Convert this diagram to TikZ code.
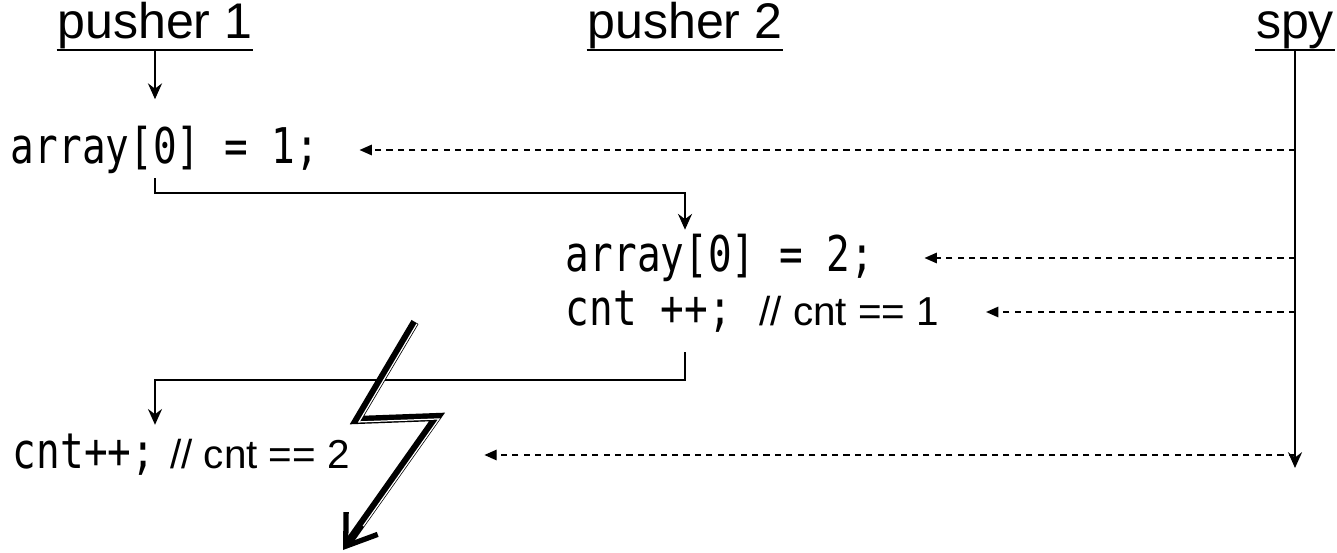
\documentclass[tikz,border=0pt]{standalone}
\usepackage{fontspec}
\setmainfont{Liberation Sans}
\newfontfamily\codefont[FakeStretch=0.8]{DejaVu Sans Mono}
\usetikzlibrary{arrows.meta}
\newcommand{\cmt}[1]{{\fontsize{23}{25}\rmfamily\selectfont #1}}

\begin{document}
\begin{tikzpicture}[>={Stealth[length=9pt,width=8pt,inset=3pt]},line width=1.1pt,
 head/.style={font=\fontsize{28.5}{30}\selectfont,inner sep=0pt,anchor=south},
 code/.style={font=\fontsize{28}{30}\codefont,inner sep=2pt,anchor=west},
 peek/.style={-{Triangle[length=7pt,width=6pt]},dash pattern=on 3.5pt off 3pt,line width=0.8pt},
 bolt/.style={line width=4.6pt,-{Straight Barb[length=16pt,width=22pt,line width=3pt]}}]
\useasboundingbox (0,0) rectangle (26.74,-11.06);
% threads
\node[head] (p1) at (3.1,-1.0) {pusher 1};
\node[head] (p2) at (13.7,-1.0) {pusher 2};
\node[head] (spy) at (25.9,-1.0) {spy};
\foreach \n in {p1,p2,spy}
  \draw[line width=1.7pt] (\n.south west) -- (\n.south east);
% statements
\node[code] (a1) at (0.13,-3.0) {array[0] = 1;};
\node[code] (a2) at (11.23,-5.16) {array[0] = 2;};
\node[code] (c1) at (11.23,-6.24) {cnt ++;\hspace{0.55cm}\cmt{// cnt == 1}};
\node[code] (c2) at (0.17,-9.1) {cnt++;\hspace{0.3cm}\cmt{// cnt == 2}};
% control flow
\draw[->,shorten >=0.45cm] (p1.south) -- (a1.north -| p1.south);
\draw[->] (a1.south -| p1.south) -- ++(0,-0.3) -| (a2.north -| p2.south);
\draw[->,shorten <=0.3cm,shorten >=0.1cm] (c1.south -| p2.south) -- ++(0,-0.86) -| (c2.north -| p1.south);
\coordinate (spyend) at (25.9,-9.36);
\draw[->] (spy.south) -- (spyend);
% what the spy sees
\draw[peek] (spy.south |- a1) -- ([xshift=0.72cm]a1.east);
\draw[peek] (spy.south |- a2) -- ([xshift=0.92cm]a2.east);
\draw[peek] (spy.south |- c1) -- ([xshift=0.85cm]c1.east);
\draw[peek] (spy.south |- c2) -- ([xshift=2.6cm]c2.east);
% context switch
\draw[bolt] (8.3,-6.44) -- (7.14,-8.4) -- (8.74,-8.34) -- (6.86,-11.0);
\draw[white,line width=0.7pt,xshift=1.1pt,yshift=-1.1pt,shorten >=18pt] (8.3,-6.44) -- (7.14,-8.4) -- (8.74,-8.34) -- (6.86,-11.0);
\end{tikzpicture}
\end{document}
